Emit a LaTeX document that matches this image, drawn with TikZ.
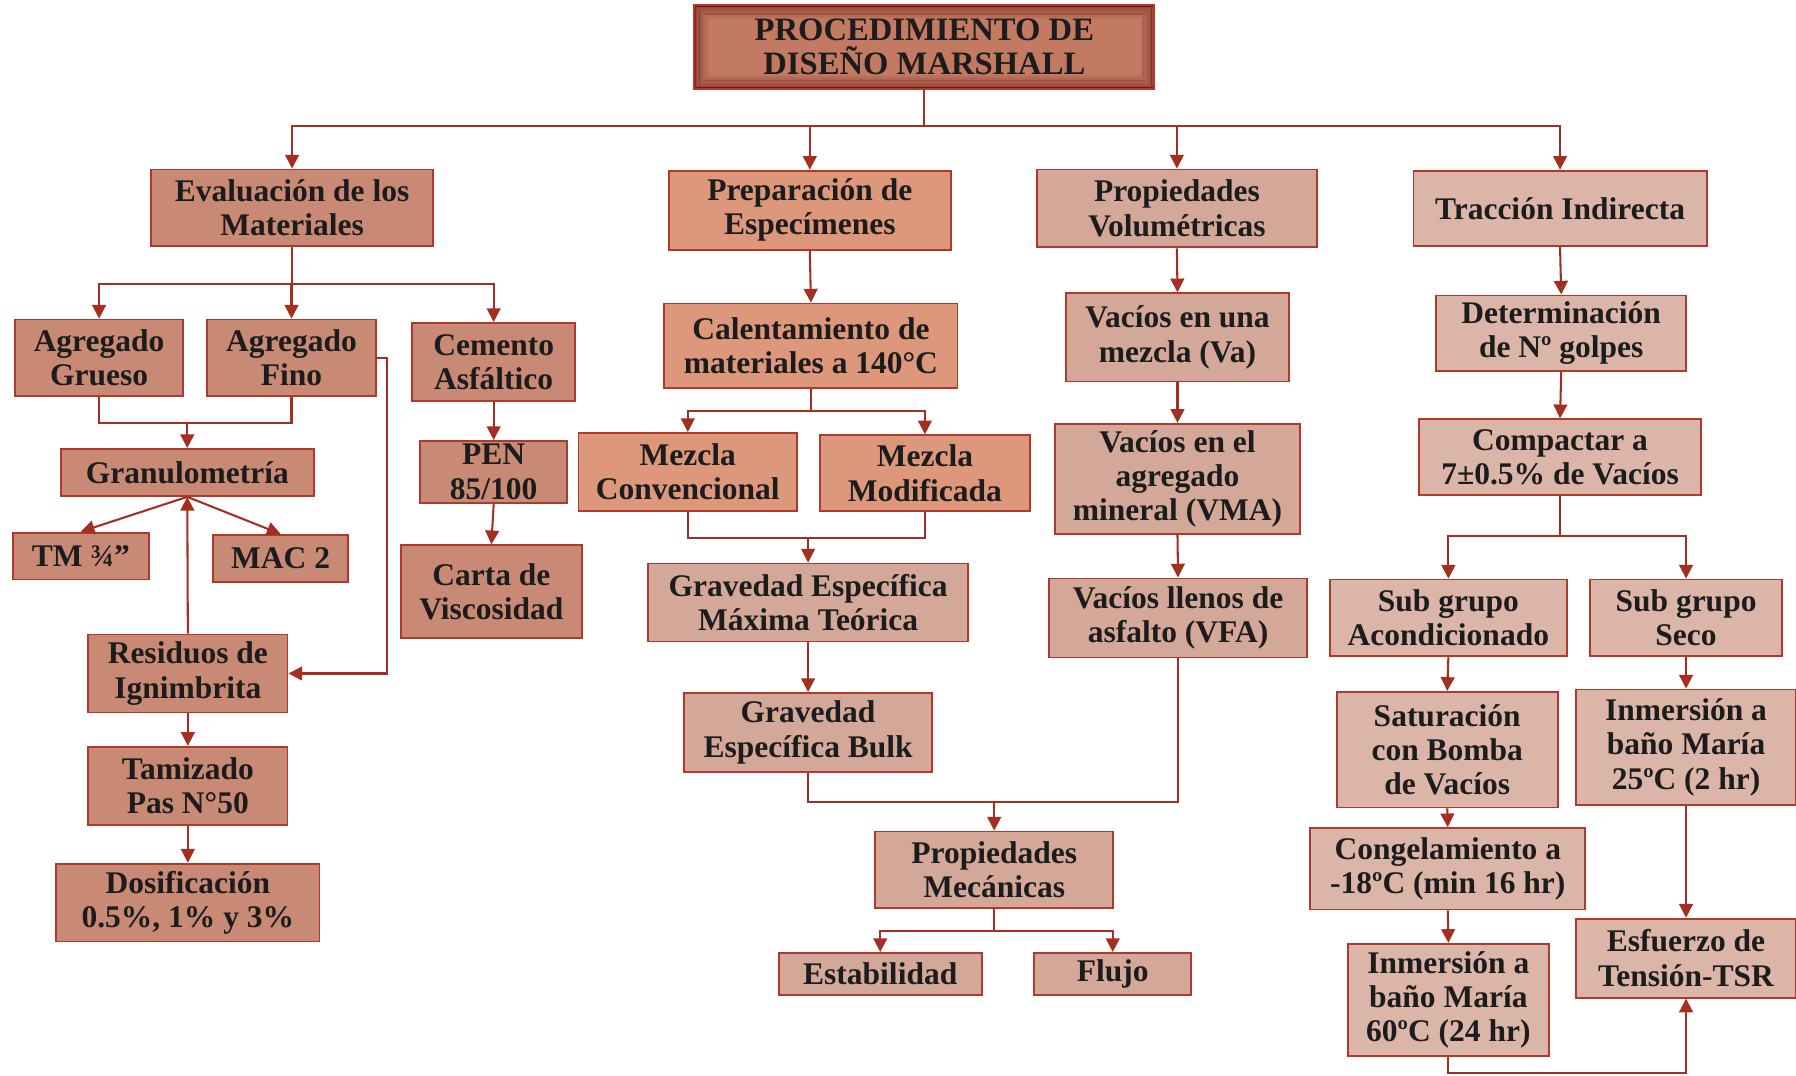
\documentclass[tikz,border=0pt]{standalone}
\usepackage{fontspec}
\setmainfont{Liberation Serif}
\usetikzlibrary{arrows.meta}
\definecolor{cT}{HTML}{C27A62}
\definecolor{cA}{HTML}{C98A75}
\definecolor{cB}{HTML}{DD977B}
\definecolor{cC}{HTML}{D4A898}
\definecolor{cD}{HTML}{DCB5A9}
\definecolor{bdc}{HTML}{B0392B}
\definecolor{lnc}{HTML}{A32F22}
\definecolor{txc}{HTML}{1C1C1C}
\tikzset{
  nbox/.style={draw=bdc, line width=1.6pt, inner sep=0pt, align=center, text=txc,
    font=\fontsize{27.5}{30}\selectfont\bfseries},
  lnk/.style={draw=lnc, line width=1.8pt},
  arr/.style={lnk, -{Triangle[length=12pt,width=12pt]}},
}
\newcommand\bx[7]{\node[nbox,fill=#6,minimum width={#4pt-#2pt},minimum height={#5pt-#3pt}] (#1) at ({(#2+#4)/2},{(#3+#5)/2}) {#7};}
\begin{document}
\begin{tikzpicture}[x=1pt,y=-1pt]
\useasboundingbox (0,0) rectangle (1568,939);
\fill[white] (0,0) rectangle (1568,939);
% title
\node[nbox,fill=cT,minimum width=400pt,minimum height=72pt,font=\fontsize{28.5}{30}\selectfont\bfseries] (title) at (807,41) {\phantom{X}};
\foreach \i in {1,...,12}{
  \pgfmathsetmacro\op{0.035*(13-\i)}
  \draw[black!60!red!80!black, line width=1.2pt, opacity=\op] ([shift={(\i pt,-\i pt)}]title.north west) rectangle ([shift={(-\i pt,\i pt)}]title.south east);
}
\draw[bdc, line width=1.6pt] (title.north west) rectangle (title.south east);
\node[align=center, text=txc, font=\fontsize{28.5}{30}\selectfont\bfseries] (titletext) at (title.center) {PROCEDIMIENTO DE\\DISEÑO MARSHALL};
% level 1
\bx{eval}{132}{148}{378}{215}{cA}{Evaluación de los\\Materiales}
\bx{prep}{584}{149}{830}{218}{cB}{Preparación de\\Especímenes}
\bx{vol}{905}{148}{1150}{216}{cC}{Propiedades\\Volumétricas}
\bx{trac}{1234}{149}{1490}{215}{cD}{Tracción Indirecta}
% left branch
\bx{grueso}{13}{279}{160}{346}{cA}{Agregado\\Grueso}
\bx{fino}{181}{279}{328}{346}{cA}{Agregado\\Fino}
\bx{cem}{360}{282}{502}{350}{cA}{Cemento\\Asfáltico}
\bx{gran}{53}{392}{274}{433}{cA}{Granulometría}
\bx{tm}{11}{465}{130}{506}{cA}{TM ¾”}
\bx{mac}{186}{467}{304}{508}{cA}{MAC 2}
\bx{res}{77}{554}{251}{622}{cA}{Residuos de\\Ignimbrita}
\bx{tam}{77}{652}{251}{720}{cA}{Tamizado\\Pas N°50}
\bx{dos}{49}{754}{279}{822}{cA}{Dosificación\\0.5\%, 1\% y 3\%}
\bx{pen}{367}{385}{495}{439}{cA}{PEN\\85/100}
\bx{carta}{350}{476}{508}{557}{cA}{Carta de\\Viscosidad}
% preparation branch
\bx{cal}{580}{265}{836}{339}{cB}{Calentamiento de\\materiales a 140°C}
\bx{conv}{505}{378}{696}{446}{cB}{Mezcla\\Convencional}
\bx{mod}{716}{380}{899}{446}{cB}{Mezcla\\Modificada}
\bx{grav}{566}{492}{845}{560}{cC}{Gravedad Específica\\Máxima Teórica}
\bx{bulk}{597}{605}{814}{674}{cC}{Gravedad\\Específica Bulk}
\bx{mec}{764}{726}{972}{793}{cC}{Propiedades\\Mecánicas}
\bx{estab}{680}{832}{857}{869}{cC}{Estabilidad}
\bx{flujo}{903}{832}{1040}{869}{cC}{Flujo}
% volumetric branch
\bx{va}{931}{256}{1125}{333}{cC}{Vacíos en una\\mezcla (Va)}
\bx{vma}{921}{370}{1135}{466}{cC}{Vacíos en el\\agregado\\mineral (VMA)}
\bx{vfa}{916}{505}{1141}{574}{cC}{Vacíos llenos de\\asfalto (VFA)}
% traction branch
\bx{det}{1254}{258}{1472}{324}{cD}{Determinación\\de Nº golpes}
\bx{comp}{1239}{366}{1485}{432}{cD}{Compactar a\\7±0.5\% de Vacíos}
\bx{acon}{1161}{506}{1368}{573}{cD}{Sub grupo\\Acondicionado}
\bx{seco}{1388}{506}{1556}{573}{cD}{Sub grupo\\Seco}
\bx{sat}{1167}{604}{1360}{705}{cD}{Saturación\\con Bomba\\de Vacíos}
\bx{cong}{1144}{723}{1384}{794}{cD}{Congelamiento a\\-18ºC (min 16 hr)}
\bx{inmA}{1177}{824}{1352}{922}{cD}{Inmersión a\\baño María\\60ºC (24 hr)}
\bx{inmB}{1376}{602}{1568}{703}{cD}{Inmersión a\\baño María\\25ºC (2 hr)}
\bx{esf}{1376}{802}{1568}{871}{cD}{Esfuerzo de\\Tensión-TSR}
% bus coordinates
\coordinate (busT) at (0,110);
\coordinate (busE) at (0,248);
\coordinate (busG) at (0,369);
\coordinate (fx) at (338,0);
\coordinate (busC) at (0,359);
\coordinate (busM) at (0,470);
\coordinate (busB) at (0,700);
\coordinate (busQ) at (0,813);
\coordinate (busS) at (0,468);
\coordinate (busI) at (0,937);
% title connectors
\draw[lnk] (title.south) -- (title.south |- busT);
\foreach \n in {eval,prep,vol,trac}{\draw[arr] (title.south |- busT) -| (\n.north);}
% evaluation connectors
\draw[lnk] (eval.south) -- (eval.south |- busE);
\foreach \n in {grueso,fino,cem}{\draw[arr] (eval.south |- busE) -| (\n.north);}
\draw[lnk] (grueso.south) |- (busG -| fino.south) -- (fino.south);
\draw[arr] (gran.north |- busG) -- (gran.north);
\draw[arr] (gran.south) -- (tm.north);
\draw[arr] (gran.south) -- (mac.north);
\draw[arr] (res.north) -- (gran.south);
\draw[arr] (fino.east) -- (fino.east -| fx) |- (res.east);
\draw[arr] (res.south) -- (tam.north);
\draw[arr] (tam.south) -- (dos.north);
\draw[arr] (cem.south) -- (pen.north);
\draw[arr] (pen.south) -- (carta.north);
% preparation connectors
\draw[arr] (prep.south) -- (cal.north);
\draw[lnk] (cal.south) -- (cal.south |- busC);
\foreach \n in {conv,mod}{\draw[arr] (cal.south |- busC) -| (\n.north);}
\draw[lnk] (conv.south) |- (busM -| mod.south) -- (mod.south);
\draw[arr] (grav.north |- busM) -- (grav.north);
\draw[arr] (grav.south) -- (bulk.north);
\draw[lnk] (bulk.south) |- (busB -| vfa.south) -- (vfa.south);
\draw[arr] (mec.north |- busB) -- (mec.north);
\draw[lnk] (mec.south) -- (mec.south |- busQ);
\foreach \n in {estab,flujo}{\draw[arr] (mec.south |- busQ) -| (\n.north);}
% volumetric connectors
\draw[arr] (vol.south) -- (va.north);
\draw[arr] (va.south) -- (vma.north);
\draw[arr] (vma.south) -- (vfa.north);
% traction connectors
\draw[arr] (trac.south) -- (det.north);
\draw[arr] (det.south) -- (comp.north);
\draw[lnk] (comp.south) -- (comp.south |- busS);
\foreach \n in {acon,seco}{\draw[arr] (comp.south |- busS) -| (\n.north);}
\draw[arr] (acon.south) -- (sat.north);
\draw[arr] (sat.south) -- (cong.north);
\draw[arr] (cong.south) -- (inmA.north);
\draw[arr] (seco.south) -- (inmB.north);
\draw[arr] (inmB.south) -- (esf.north);
\draw[arr] (inmA.south) |- (busI -| esf.south) -- (esf.south);
\end{tikzpicture}
\end{document}
